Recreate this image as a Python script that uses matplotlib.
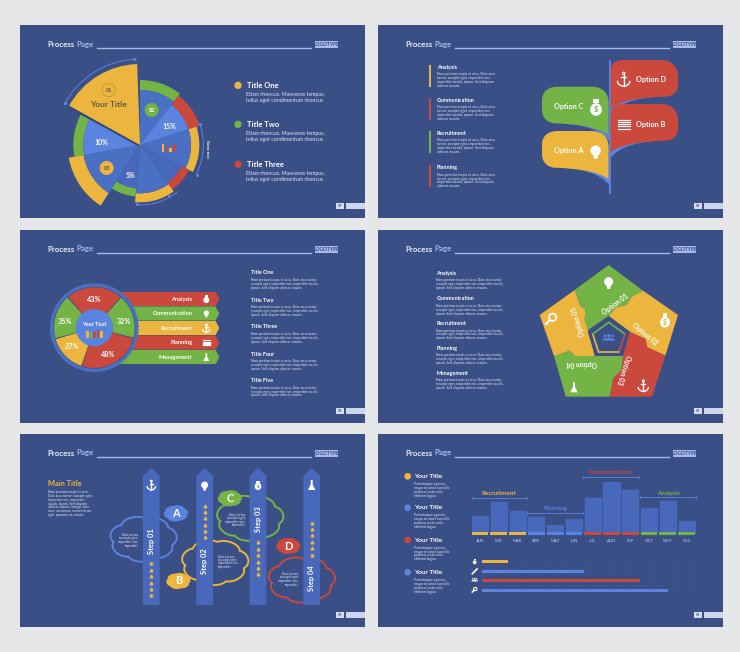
import matplotlib
matplotlib.use("Agg")
import matplotlib.pyplot as plt
from matplotlib.patches import Wedge, Circle, Rectangle, Polygon, PathPatch, Arc, Ellipse
from matplotlib.path import Path
import numpy as np

plt.rcParams['font.family'] = ['Lato', 'DejaVu Sans']

W, H = 740, 652
BG = '#e6e7e9'
PANEL = '#3a4f86'
BLUE = '#4a70c4'
LBLUE = '#5b83e0'
DBLUE = '#4868bb'
YELLOW = '#ecb53d'
GREEN = '#74b345'
RED = '#cb483c'
WHITE = '#ffffff'
PALE = '#a5b9ea'

# pie slices: start angle, end angle, radius, colour, ring outer radius, ring colour
pie_starts = [52, 18, -27, -54, -95, -123, -170, 153]
pie_ends = [90, 52, 18, -27, -54, -95, -123, 190]
pie_radius = [165, 153, 153, 140, 145, 130, 172, 170]
pie_colors = [BLUE, LBLUE, BLUE, DBLUE, BLUE, DBLUE, BLUE, LBLUE]
ring_outer = [195, 188, 178, 165, 172, 155, 217, 200]
ring_colors = [GREEN, RED, YELLOW, RED, YELLOW, GREEN, YELLOW, GREEN]
pie_labels = ['15%', '10%', '5%']
legend_titles = ['Title One', 'Title Two', 'Title Three']

# donut
donut_labels = ['43%', '32%', '48%', '27%', '35%']
donut_starts = [49, -15, -108, 196, 131]
donut_ends = [131, 49, -15, 252, 196]
donut_colors = [RED, GREEN, RED, YELLOW, GREEN]
ribbon_names = ['Analysis', 'Communication', 'Recruitment', 'Planning', 'Management']
ribbon_colors = [RED, GREEN, YELLOW, RED, GREEN]
title_names = ['Title One', 'Title Two', 'Title Three', 'Title Four', 'Title Five']

# monthly bars
months = ['JAN', 'FEB', 'MAR', 'APR', 'MAY', 'JUN', 'JUL', 'AUG', 'SEP', 'OCT', 'NOV', 'DEC']
month_values = [50, 90, 65, 47, 22, 40, 103, 150, 127, 72, 94, 34]
month_caps = [YELLOW] * 3 + [LBLUE] * 3 + [RED] * 3 + [GREEN] * 3
progress_values = [12, 48, 74, 87]
progress_colors = [YELLOW, LBLUE, RED, LBLUE]

LOREM = ["Nam pretium turpis et arcu. Duis arcu",
         "tortor, suscipit eget, imperdiet nec,",
         "imperdiet iaculis, ipsum. Sed aliquam",
         "ultrices mauris."]
LOREM3 = ["Nam pretium turpis et arcu. Duis arcu tortor,",
          "suscipit eget, imperdiet nec, imperdiet iaculis,",
          "ipsum. Sed aliquam ultrices mauris."]

fig = plt.figure(figsize=(W / 100, H / 100), dpi=100, facecolor=BG)


def make_panel(ox, oy):
    """One slide, in coordinates of 3 units per pixel."""
    ax = fig.add_axes([ox / W, 1 - (oy + 195) / H, 345 / W, 195 / H])
    ax.set_xlim(0, 1035)
    ax.set_ylim(585, 0)
    ax.axis('off')
    ax.add_patch(Rectangle((0, 1), 1035, 577, fc=PANEL, ec='none'))
    txt(ax, 81, 57, 'Process', 5.7, '#e8edf8', 'bold')
    txt(ax, 169, 57, 'Page', 5.7, PALE, 'bold')
    ax.plot([232, 872], [68, 68], color=PALE, lw=1.0)
    ax.add_patch(Rectangle((884, 48), 70, 22, fc=PALE, ec='none'))
    txt(ax, 919, 59, 'LOGOTYPE', 3.6, PANEL, 'bold', ha='center')
    ax.add_patch(Rectangle((948, 533), 24, 19, fc='#d5dcef', ec='none'))
    txt(ax, 960, 543, '59', 2.6, PANEL, 'bold', ha='center')
    ax.add_patch(Rectangle((977, 533), 58, 19, fc='#cdd6ee', ec='none'))
    return ax


def txt(ax, x, y, s, size, color=WHITE, weight='normal', ha='left', rot=0):
    ax.text(x, y, s, fontsize=size, color=color, fontweight=weight, ha=ha, va='center',
            rotation=rot, rotation_mode='anchor')


def body(ax, x, y, lines, size=2.4, step=11.5, color='#dfe5f5', ha='left'):
    for i, line in enumerate(lines):
        txt(ax, x, y + i * step, line, size, color, ha=ha)


def wedge(ax, cx, cy, r, a1, a2, inner=None, color=BLUE, **kw):
    """Wedge with screen angles (the y axis is flipped)."""
    width = None if inner is None else r - inner
    ax.add_patch(Wedge((cx, cy), r, -a2, -a1, width=width, fc=color, ec='none', **kw))


def icon_bulb(ax, x, y, s, c=WHITE):
    ax.add_patch(Circle((x, y), s * 0.62, fc=c, ec='none'))
    ax.add_patch(Polygon([(x - s * .3, y + s * .5), (x + s * .3, y + s * .5),
                          (x + s * .2, y + s), (x - s * .2, y + s)], fc=c, ec='none'))


def icon_bag(ax, x, y, s, c=WHITE, dollar=GREEN):
    ax.add_patch(Ellipse((x, y + s * .2), s * 1.25, s * 1.35, fc=c, ec='none'))
    ax.add_patch(Rectangle((x - s * .3, y - s * .9), s * .6, s * .4, fc=c, ec='none'))
    if dollar:
        txt(ax, x, y + s * .2, '$', s * .2, dollar, 'bold', ha='center')


def icon_anchor(ax, x, y, s, c=WHITE):
    lw = 1.0
    ax.plot([x, x], [y - s * .7, y + s * .9], color=c, lw=lw)
    ax.plot([x - s * .35, x + s * .35], [y - s * .3, y - s * .3], color=c, lw=lw)
    ax.add_patch(Circle((x, y - s * .85), s * .17, fc='none', ec=c, lw=.8))
    ax.add_patch(Arc((x, y + s * .15), s * 1.7, s * 1.5, theta1=0, theta2=180, ec=c, lw=lw))


def icon_flask(ax, x, y, s, c=WHITE):
    ax.add_patch(Polygon([(x - s * .2, y - s), (x + s * .2, y - s), (x + s * .2, y - s * .1),
                          (x + s * .75, y + s), (x - s * .75, y + s), (x - s * .2, y - s * .1)],
                         fc=c, ec='none'))


def icon_lens(ax, x, y, s, c=WHITE, lw=1.3):
    ax.add_patch(Circle((x + s * .2, y - s * .2), s * .55, fc='none', ec=c, lw=lw))
    ax.plot([x - s * .2, x - s * .8], [y + s * .2, y + s * .8], color=c, lw=lw + .3)


def icon_stack(ax, x, y, s, c=WHITE):
    for dy in (-.7, -.35, 0, .35, .7):
        ax.plot([x - s, x + s], [y + dy * s, y + dy * s], color=c, lw=.9)


def icon_people(ax, x, y, s, c=LBLUE):
    for dx, k in ((-.75, .8), (.75, .8), (0, 1.0)):
        ax.add_patch(Circle((x + dx * s, y - s * .35 * k), s * .34 * k, fc=c, ec='none'))
        ax.add_patch(Wedge((x + dx * s, y + s * .65), s * .6 * k, 180, 360, fc=c, ec='none'))


def cloud_path(cx, cy, rx, ry, n=7, start=0.3):
    """Closed outline of n shallow rounded bumps around an ellipse."""
    verts, codes = [], []
    da = 2 * np.pi / n
    for i in range(n):
        a = start + i * da
        b = a + da
        p0 = (cx + rx * .9 * np.cos(a), cy + ry * .9 * np.sin(a))
        c0 = (cx + rx * 1.1 * np.cos(a + .25 * da), cy + ry * 1.1 * np.sin(a + .25 * da))
        c1 = (cx + rx * 1.1 * np.cos(b - .25 * da), cy + ry * 1.1 * np.sin(b - .25 * da))
        p1 = (cx + rx * .9 * np.cos(b), cy + ry * .9 * np.sin(b))
        if i == 0:
            verts.append(p0)
            codes.append(Path.MOVETO)
        verts += [c0, c1, p1]
        codes += [Path.CURVE4, Path.CURVE4, Path.CURVE4]
    return Path(verts, codes)


def mini_bars(ax, x, y, w, h, heights, colors):
    n = len(heights)
    for i, (v, c) in enumerate(zip(heights, colors)):
        ax.add_patch(Rectangle((x + i * w / n, y - v * h), w / n * .72, v * h, fc=c, ec='none'))


def panel_pie(ox, oy):
    ax = make_panel(ox, oy)
    cx, cy = 360, 360
    for a1, a2, r, c, ro, rc in zip(pie_starts, pie_ends, pie_radius, pie_colors, ring_outer, ring_colors):
        wedge(ax, cx, cy, ro, a1, a2, r, rc)
        wedge(ax, cx, cy, r, a1, a2, None, c)
    # big yellow slice with its shadow edge
    wedge(ax, cx - 3, cy + 5, 243, 92, 151, None, '#33467a')
    wedge(ax, cx, cy, 243, 92, 151, None, YELLOW)
    for r, a1, a2 in ((258, 92, 152), (190, -27, 18), (180, -92, -52)):
        ax.add_patch(Arc((cx, cy), 2 * r, 2 * r, theta1=-a2, theta2=-a1, ec=LBLUE, lw=.7))
    ax.plot([343, 136, 540, 530, 447, 350], [103, 233, 298, 449, 514, 538], ls='none',
            marker='o', ms=1.3, color=LBLUE)
    ax.add_patch(Circle((266, 195), 20, fc='none', ec='#c99a33', lw=.7))
    txt(ax, 266, 196, '01', 4.0, '#5d5a4a', 'bold', ha='center')
    txt(ax, 266, 239, 'Your Title', 6.0, '#5d5a4a', 'bold', ha='center')
    ax.add_patch(Circle((395, 255), 21, fc=GREEN, ec='none'))
    txt(ax, 395, 255, '02', 4.0, WHITE, 'bold', ha='center')
    ax.add_patch(Circle((260, 429), 21, fc=YELLOW, ec='none'))
    txt(ax, 260, 429, '03', 4.0, '#5d5a4a', 'bold', ha='center')
    txt(ax, 447, 305, pie_labels[0], 5, ha='center', weight='bold')
    txt(ax, 245, 353, pie_labels[1], 5, ha='center', weight='bold')
    txt(ax, 333, 452, pie_labels[2], 5, ha='center', weight='bold')
    mini_bars(ax, 425, 382, 46, 24, [1, .8, .6, 1], [YELLOW, RED, YELLOW, RED])
    txt(ax, 562, 372, 'Some text', 2.8, WHITE, 'bold', ha='center', rot=-90)
    for title, y, c in zip(legend_titles, (181, 298, 418), (YELLOW, GREEN, RED)):
        ax.add_patch(Circle((654, y), 11, fc=c, ec='none'))
        txt(ax, 680, y, title, 5.5, WHITE, 'bold')
        body(ax, 679, y + 27, ["Etiam rhoncus. Maecenas tempus,",
                               "tellus eget condimentum rhoncus"], 3.8, 18)


def leaf_left(dy):
    v = [(540, 185), (640, 185), (675, 185), (692, 205), (692, 235), (692, 330),
         (660, 305), (590, 297), (530, 295), (505, 293), (492, 275), (492, 255),
         (492, 225), (492, 200), (510, 185), (540, 185), (540, 185)]
    c = [Path.MOVETO, Path.LINETO, Path.CURVE4, Path.CURVE4, Path.CURVE4, Path.LINETO,
         Path.CURVE4, Path.CURVE4, Path.CURVE4, Path.CURVE4, Path.CURVE4, Path.CURVE4,
         Path.LINETO, Path.CURVE4, Path.CURVE4, Path.CURVE4, Path.CLOSEPOLY]
    return Path([(x, y + dy) for x, y in v], c)


def stripe(pts, dy):
    c = [Path.MOVETO, Path.CURVE4, Path.CURVE4, Path.CURVE4, Path.LINETO,
         Path.CURVE4, Path.CURVE4, Path.CURVE4, Path.CLOSEPOLY]
    return Path([(x, y + dy) for x, y in pts], c)


def leaf_right(dy):
    v = [(698, 135), (698, 115), (715, 105), (735, 105), (850, 105), (880, 105), (900, 125),
         (900, 155), (900, 180), (900, 205), (880, 215), (860, 215), (790, 218), (730, 225),
         (698, 250), (698, 135)]
    c = [Path.MOVETO, Path.CURVE4, Path.CURVE4, Path.CURVE4, Path.LINETO, Path.CURVE4, Path.CURVE4,
         Path.CURVE4, Path.LINETO, Path.CURVE4, Path.CURVE4, Path.CURVE4, Path.CURVE4, Path.CURVE4,
         Path.CURVE4, Path.CLOSEPOLY]
    return Path([(x, y + dy) for x, y in v], c)


def panel_leaves(ox, oy):
    ax = make_panel(ox, oy)
    names = ['Analysis', 'Communication', 'Recruitment', 'Planning']
    colors = [YELLOW, RED, GREEN, RED]
    for name, y, c in zip(names, (127, 226, 324, 428), colors):
        ax.add_patch(Rectangle((153, y - 7), 7, 66, fc=c, ec='none'))
        txt(ax, 176, y, name, 3.9, WHITE, 'bold')
        body(ax, 176, y + 21, LOREM, 2.5)
    ax.add_patch(Rectangle((692, 105), 7, 403, fc=LBLUE, ec='none'))
    left_stripe = [(525, 292), (600, 296), (665, 308), (695, 350), (695, 325),
                   (660, 303), (590, 293), (525, 289), (525, 292)]
    right_stripe = [(865, 212), (790, 218), (725, 228), (695, 270), (695, 245),
                    (725, 222), (790, 213), (865, 208), (865, 212)]
    for dy, c in ((0, GREEN), (133, YELLOW)):
        ax.add_patch(PathPatch(stripe(left_stripe, dy), fc=LBLUE, ec='none'))
        ax.add_patch(PathPatch(leaf_left(dy), fc=c, ec='none'))
    for dy in (0, 132):
        ax.add_patch(PathPatch(stripe(right_stripe, dy), fc=LBLUE, ec='none'))
        ax.add_patch(PathPatch(leaf_right(dy), fc=RED, ec='none'))
    txt(ax, 572, 244, 'Option C', 5.2, WHITE, 'bold', ha='center')
    txt(ax, 571, 377, 'Option A', 5.2, WHITE, 'bold', ha='center')
    txt(ax, 819, 164, 'Option D', 5.2, WHITE, 'bold', ha='center')
    txt(ax, 819, 297, 'Option B', 5.2, WHITE, 'bold', ha='center')
    icon_bag(ax, 654, 248, 28)
    icon_bulb(ax, 653, 377, 25)
    icon_anchor(ax, 737, 164, 22)
    icon_stack(ax, 737, 298, 18)


def panel_donut(ox, oy):
    ax = make_panel(ox, oy)
    for i, (name, c) in enumerate(zip(ribbon_names, ribbon_colors)):
        y0 = 186 + i * 43.5
        ax.add_patch(Polygon([(290, y0), (587, y0), (598, y0 + 21), (587, y0 + 42), (290, y0 + 42)],
                             fc=c, ec='none'))
        txt(ax, 517, y0 + 22, name, 4.1, WHITE, 'bold', ha='right')
    icon_bag(ax, 559, 207, 14, dollar=None)
    icon_bulb(ax, 559, 249, 13)
    icon_anchor(ax, 559, 295, 13)
    icon_stack(ax, 559, 338, 10)
    icon_flask(ax, 559, 381, 12)
    cx, cy = 223, 293
    ax.add_patch(Circle((cx, cy), 133, fc=BLUE, ec='none'))
    ax.add_patch(Circle((cx, cy), 123, fc=PANEL, ec='none'))
    for a1, a2, c in zip(donut_starts, donut_ends, donut_colors):
        wedge(ax, cx, cy, 121, a1 + .8, a2 - .8, 55, c)
    ax.add_patch(Circle((cx, cy), 56, fc=LBLUE, ec='none'))
    txt(ax, cx, 283, 'Your Text', 4.0, WHITE, 'bold', ha='center')
    mini_bars(ax, 199, 325, 52, 26, [.8, .7, .7, 1, .8], [YELLOW, GREEN, RED, RED, YELLOW])
    for s, x, y in zip(donut_labels, (222, 311, 263, 155, 136), (208, 275, 373, 350, 275)):
        txt(ax, x, y, s, 5.2, WHITE, 'bold', ha='center')
    for name, y in zip(title_names, (129, 210, 291, 372, 452)):
        txt(ax, 692, y, name, 3.9, WHITE, 'bold')
        body(ax, 692, y + 21, LOREM3, 2.45)


def panel_pentagon(ox, oy):
    ax = make_panel(ox, oy)
    for name, y in zip(ribbon_names, (130, 207, 281, 355, 429)):
        txt(ax, 175, y, name, 3.9, WHITE, 'bold')
        body(ax, 175, y + 21, LOREM3, 2.45)
    regions = [
        ([(692, 105), (795, 182), (762, 200), (745, 225), (715, 232), (692, 258), (630, 300),
          (620, 270), (622, 240), (605, 225), (590, 180)], GREEN),
        ([(795, 182), (900, 255), (862, 377), (808, 352), (802, 327), (755, 305), (692, 258),
          (715, 232), (745, 225), (762, 200)], YELLOW),
        ([(862, 377), (822, 500), (695, 500), (705, 445), (730, 420), (735, 378), (755, 305),
          (802, 327), (808, 352)], RED),
        ([(528, 378), (575, 362), (590, 378), (735, 378), (730, 420), (705, 445), (695, 500),
          (563, 500)], GREEN),
        ([(485, 255), (590, 180), (605, 225), (622, 240), (620, 270), (630, 300), (650, 378),
          (590, 378), (575, 362), (528, 378)], YELLOW),
    ]
    for pts, c in regions:
        ax.add_patch(Polygon(pts, fc=c, ec='none'))
    outer = [(692, 258), (755, 305), (731, 378), (652, 378), (629, 305)]
    ax.add_patch(Polygon(outer, fc=PANEL, ec='none'))
    ring = [(692, 277), (741, 312), (722, 367), (662, 367), (644, 312)]
    for i, c in enumerate((GREEN, RED, YELLOW, YELLOW, GREEN)):
        p, q = ring[i], ring[(i + 1) % 5]
        ax.plot([p[0], q[0]], [p[1], q[1]], color=c, lw=1.2, solid_capstyle='round')
    icon_people(ax, 692, 322, 15)
    txt(ax, 713, 224, 'Option 01', 4.9, WHITE, 'bold', ha='center', rot=36)
    txt(ax, 800, 311, 'Option 02', 4.9, WHITE, 'bold', ha='center', rot=-40)
    txt(ax, 738, 420, 'Option 03', 4.9, WHITE, 'bold', ha='center', rot=-108)
    txt(ax, 612, 399, 'Option 04', 4.9, WHITE, 'bold', ha='center', rot=180)
    txt(ax, 601, 273, 'Option 05', 4.9, WHITE, 'bold', ha='center', rot=107)
    icon_bulb(ax, 692, 155, 22)
    icon_bag(ax, 861, 272, 24, dollar=YELLOW)
    icon_anchor(ax, 796, 468, 18)
    icon_flask(ax, 588, 472, 15)
    icon_lens(ax, 520, 266, 20)


def panel_steps(ox, oy):
    ax = make_panel(ox, oy)
    txt(ax, 83, 147, 'Main Title', 5.3, YELLOW, 'bold')
    body(ax, 83, 175, ["Nam pretium turpis et arcu.", "Duis arcu tortor, suscipit eget,",
                       "imperdiet nec, imperdiet", "iaculis, ipsum. Sed aliquam",
                       "ultrices mauris. Integer ante", "arcu, accumsan, consectetuer",
                       "eget, posuere ut, mauris."], 2.4, 11.3)
    outlines = ((370, 315, LBLUE), (585, 385, YELLOW), (690, 252, GREEN), (845, 437, RED))
    for cx, cy, c in outlines:
        ax.add_patch(PathPatch(cloud_path(cx, cy, 100, 68), fc='none', ec=c, lw=1.4))
    columns = [394, 554, 714, 875]
    names = ['Step 01', 'Step 02', 'Step 03', 'Step 04']
    label_y = [320, 380, 255, 432]
    chevrons = [(388, 484), (215, 310), (325, 421), (266, 362)]
    for x, name, ly, (c0, c1) in zip(columns, names, label_y, chevrons):
        ax.add_patch(Polygon([(x - 25, 513), (x - 25, 125), (x, 102), (x + 25, 125), (x + 25, 513)],
                             fc=DBLUE, ec='none'))
        txt(ax, x, ly, name, 5.4, WHITE, 'bold', ha='center', rot=90)
        for k in range(6):
            y = c0 + k * (c1 - c0) / 5
            ax.plot([x], [y], marker='^', ms=2.0, color=YELLOW, ls='none')
    icon_anchor(ax, 394, 154, 15)
    icon_bulb(ax, 554, 153, 17)
    icon_bag(ax, 714, 154, 16, dollar=DBLUE)
    icon_flask(ax, 875, 153, 15)
    solids = ((468, 238, LBLUE, 'A'), (475, 441, YELLOW, 'B'), (630, 193, GREEN, 'C'), (805, 336, RED, 'D'))
    for cx, cy, c, s in solids:
        ax.add_patch(PathPatch(cloud_path(cx, cy, 37, 25, 6), fc=c, ec='none'))
        txt(ax, cx, cy, s, 8, WHITE, 'bold', ha='center')
    note = ["Duis tortor,", "suscipit eget,", "imperdiet nec,", "imperdiet"]
    body(ax, 355, 302, note, 2.3, 11, ha='right')
    body(ax, 593, 366, note, 2.3, 11)
    body(ax, 677, 241, note, 2.3, 11, ha='right')
    body(ax, 836, 419, note, 2.3, 11, ha='right')


def inset(ox, oy, x0, y0, x1, y1):
    """Transparent axes placed with slide coordinates."""
    left = ox + x0 / 3
    top = oy + y0 / 3
    sub = fig.add_axes([left / W, 1 - (top + (y1 - y0) / 3) / H, (x1 - x0) / 3 / W, (y1 - y0) / 3 / H])
    sub.patch.set_alpha(0)
    for sp in sub.spines.values():
        sp.set_visible(False)
    return sub


def panel_bars(ox, oy):
    ax = make_panel(ox, oy)
    items = ((127, YELLOW), (221, LBLUE), (318, RED), (415, LBLUE))
    for y, c in items:
        ax.add_patch(Circle((89, y), 10, fc=c, ec='none'))
        txt(ax, 108, y, 'Your Title', 4.6, WHITE, 'bold')
        body(ax, 108, y + 23, ["Pellentesque egestas,", "neque sit amet convallis",
                               "pulvinar, justo nulla", "eleifend augue."], 2.4, 11.7)
    brackets = ((281, 446, 191, 'Recruitment', YELLOW, 179), (448, 615, 237, 'Planning', LBLUE, 224),
                (616, 782, 130, 'Communication', RED, 117), (787, 953, 189, 'Analysis', GREEN, 177))
    for x0, x1, y, s, c, ty in brackets:
        ax.plot([x0, x1], [y, y], color=LBLUE, lw=.6, marker='|', ms=2)
        txt(ax, (x0 + x1) / 2, ty, s, 4.5, c, 'bold', ha='center')

    bars = inset(ox, oy, 278, 145, 954, 304)
    x = np.arange(len(months))
    bars.bar(x, month_values, width=.86, color=DBLUE, edgecolor=DBLUE, lw=1.0, joinstyle='round')
    bars.bar(x, [-8] * 12, width=.89, color=month_caps)
    bars.set_xlim(-.5, 11.5)
    bars.set_ylim(-9, 150)
    bars.set_xticks(x, months)
    bars.set_yticks([])
    bars.tick_params(axis='x', length=0, labelsize=3.1, labelcolor='#c6d1ee', pad=2.5)

    prog = inset(ox, oy, 312, 369, 952, 483)
    prog.barh(range(4), progress_values, height=.36, color=progress_colors)
    prog.set_xlim(0, 100)
    prog.set_ylim(3.5, -.5)
    prog.set_xticks(range(0, 101, 10))
    prog.set_yticks(range(4))
    prog.set_xticklabels([])
    prog.set_yticklabels([])
    prog.tick_params(length=0)
    prog.grid(True, color='#5570b0', lw=.3, ls=':')
    prog.set_axisbelow(True)
    icon_bag(ax, 290, 383, 9, dollar=None)
    ax.plot([283, 297], [419, 405], color=WHITE, lw=1.2)
    icon_people(ax, 290, 437, 8, WHITE)
    icon_lens(ax, 290, 467, 9, WHITE, .8)


panel_pie(20, 25)
panel_leaves(378, 25)
panel_donut(20, 230)
panel_pentagon(378, 230)
panel_steps(20, 434)
panel_bars(378, 434)

fig.savefig('out.png', dpi=100, facecolor=BG)
